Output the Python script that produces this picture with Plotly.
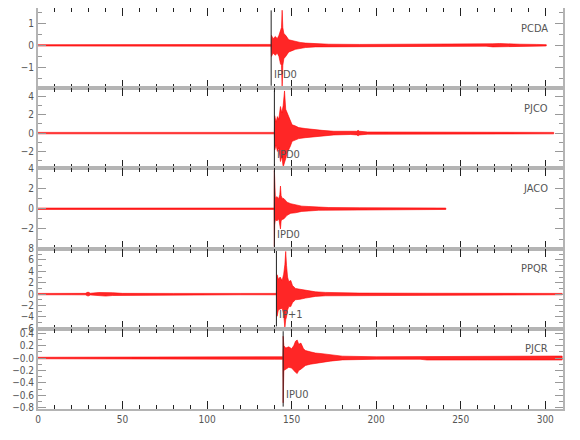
import plotly.graph_objects as go
from plotly.subplots import make_subplots

# ---------------- data ----------------
stations = ["PCDA", "PJCO", "JACO", "PPQR", "PJCR"]
pick_labels = ["IPD0", "IPD0", "IPD0", "IP+1", "IPU0"]
pick_times = [137.9, 139.8, 139.8, 141.0, 145.0]

# amplitude envelopes (upper / lower) of each trace, seconds vs counts
pcda_t = [0, 30, 60, 76, 80, 110, 125, 137.9, 138.1, 139.0, 140.4, 141.5, 142.5, 143.4,
          144.0, 144.4, 144.8, 145.4, 146.5, 148.3, 150.0, 152.3, 155.0, 158.2, 164, 172,
          190, 220, 250, 265, 269, 273, 277, 281, 285, 295, 300.6]
pcda_up = [0.03, 0.03, 0.03, 0.05, 0.03, 0.04, 0.04, 0.04, 0.45, 0.3, 0.4, 0.3, 0.45, 0.68,
           0.8, 1.58, 0.8, 0.53, 0.45, 0.25, 0.22, 0.16, 0.13, 0.1, 0.07, 0.05,
           0.04, 0.04, 0.04, 0.04, 0.07, 0.08, 0.06, 0.07, 0.05, 0.04, 0.03]
pcda_lo = [-0.03, -0.03, -0.03, -0.05, -0.03, -0.04, -0.04, -0.04, -0.5, -0.35, -0.45, -0.35, -0.5, -0.83,
           -0.9, -1.88, -0.9, -0.6, -0.5, -0.3, -0.25, -0.18, -0.13, -0.1, -0.07, -0.05,
           -0.04, -0.04, -0.04, -0.04, -0.07, -0.09, -0.06, -0.07, -0.05, -0.04, -0.03]

pjco_t = [0, 40, 80, 120, 139.8, 140.0, 140.8, 141.6, 142.4, 143.4, 144.2, 145.0, 145.8,
          146.5, 147.3, 148.3, 149.3, 150.3, 152.0, 154.2, 158.0, 162.1, 168, 175, 185,
          188.5, 189.3, 190.2, 195, 220, 260, 305]
pjco_up = [0.08, 0.08, 0.08, 0.08, 0.08, 1.9, 1.2, 1.8, 1.5, 2.9, 2.2, 3.0, 4.6,
           2.6, 2.2, 1.8, 1.4, 0.9, 0.8, 0.6, 0.5, 0.4, 0.3, 0.2, 0.15,
           0.2, 0.3, 0.2, 0.12, 0.1, 0.08, 0.08]
pjco_lo = [-0.08, -0.08, -0.08, -0.08, -0.08, -1.85, -1.3, -2.0, -1.6, -3.1, -2.5, -3.7, -3.3,
           -2.8, -2.2, -1.8, -1.4, -0.9, -0.8, -0.6, -0.5, -0.4, -0.3, -0.2, -0.15,
           -0.2, -0.3, -0.2, -0.12, -0.1, -0.08, -0.08]

jaco_t = [0, 50, 100, 139.6, 139.8, 140.0, 140.4, 141.4, 142.4, 143.0, 143.4, 143.8, 144.4,
          145.5, 147.3, 149.5, 152.3, 156.0, 160.2, 166, 172, 190, 220, 241.2]
jaco_up = [0.07, 0.07, 0.07, 0.07, 3.85, 1.5, 1.1, 1.2, 1.0, 1.4, 2.25, 1.3, 1.05,
           1.0, 0.65, 0.5, 0.4, 0.26, 0.22, 0.15, 0.12, 0.1, 0.08, 0.07]
jaco_lo = [-0.07, -0.07, -0.07, -0.07, -3.8, -1.6, -1.1, -1.2, -1.0, -1.3, -2.0, -1.2, -1.07,
           -1.0, -0.65, -0.45, -0.4, -0.26, -0.22, -0.15, -0.12, -0.1, -0.08, -0.07]

ppqr_t = [0, 20, 28, 29.6, 31, 36, 40, 44, 50, 55, 80, 120, 141.0, 141.2, 141.4, 142.2,
          143.2, 144.4, 145.3, 146.0, 146.5, 147.0, 147.6, 148.3, 149.5, 150.5, 152.3,
          155, 158.2, 161, 164.1, 170, 175.9, 190, 230, 270, 310]
ppqr_up = [0.12, 0.12, 0.13, 0.35, 0.15, 0.28, 0.3, 0.25, 0.13, 0.12, 0.12, 0.12, 0.12, 2.5,
           3.4, 2.6, 3.0, 2.4, 3.5, 5.2, 7.5, 5.0, 3.0, 2.2, 2.4, 1.5, 1.0,
           0.85, 0.7, 0.5, 0.4, 0.3, 0.25, 0.18, 0.15, 0.15, 0.12]
ppqr_lo = [-0.12, -0.12, -0.13, -0.35, -0.15, -0.3, -0.35, -0.25, -0.13, -0.12, -0.12, -0.12, -0.12, -2.6,
           -3.9, -2.75, -2.7, -2.5, -3.5, -6.0, -4.5, -4.0, -2.8, -2.2, -2.2, -1.5, -1.0,
           -0.9, -0.7, -0.5, -0.4, -0.3, -0.25, -0.18, -0.15, -0.15, -0.12]

pjcr_t = [0, 50, 100, 140, 144.8, 145.0, 145.4, 146.5, 148.3, 150.0, 151.3, 152.3, 153.3,
          154.2, 155.5, 157.0, 158.2, 161, 164.1, 168, 172.8, 180, 200, 226, 230, 260, 290, 310]
pjcr_up = [0.012, 0.012, 0.018, 0.02, 0.02, 0.35, 0.2, 0.16, 0.18, 0.15, 0.2, 0.27, 0.29,
           0.22, 0.24, 0.15, 0.12, 0.1, 0.08, 0.07, 0.05, 0.03, 0.02, 0.02, 0.032, 0.032, 0.028, 0.032]
pjcr_lo = [-0.012, -0.012, -0.018, -0.02, -0.02, -0.72, -0.2, -0.18, -0.15, -0.16, -0.2, -0.23, -0.25,
           -0.2, -0.18, -0.15, -0.12, -0.1, -0.08, -0.07, -0.05, -0.03, -0.02, -0.02, -0.032, -0.032, -0.028, -0.032]

traces_t = [pcda_t, pjco_t, jaco_t, ppqr_t, pjcr_t]
traces_up = [pcda_up, pjco_up, jaco_up, ppqr_up, pjcr_up]
traces_lo = [pcda_lo, pjco_lo, jaco_lo, ppqr_lo, pjcr_lo]

y_ranges = [[-1.93, 1.68], [-3.85, 4.9], [-3.95, 4.0], [-6.1, 8.0], [-0.82, 0.47]]
y_tickvals = [[-1, 0, 1], [-2, 0, 2, 4], [-2, 0, 2, 4], [-6, -4, -2, 0, 2, 4, 6, 8],
              [-0.8, -0.6, -0.4, -0.2, 0.0, 0.2, 0.4]]
y_ticktext = [["\u22121", "0", "1"], ["\u22122", "0", "2", "4"], ["\u22122", "0", "2", "4"],
              ["\u22126", "\u22124", "\u22122", "0", "2", "4", "6", "8"],
              ["\u22120.8", "\u22120.6", "\u22120.4", "\u22120.2", "\u22120.0", "0.2", "0.4"]]
y_minor = [0.5, 1, 1, 1, 0.1]
x_range = [0, 310.5]
x_tickvals = [0, 50, 100, 150, 200, 250, 300]

# ---------------- figure ----------------
FONT = "DejaVu Sans Condensed, Liberation Sans Narrow, sans-serif"
BORDER = "#b4b4b4"
TXT = "#555555"

fig = make_subplots(rows=5, cols=1, shared_xaxes=True, vertical_spacing=0)

for i in range(5):
    r = i + 1
    t = traces_t[i]
    xs = list(t) + list(t[::-1])
    ys = list(traces_up[i]) + list(traces_lo[i][::-1])
    fig.add_trace(go.Scatter(x=xs, y=ys, mode="lines", fill="toself",
                             fillcolor="rgba(255,0,0,0.85)", line=dict(color="#ff0000", width=0.6),
                             hoverinfo="skip", showlegend=False), row=r, col=1)

    xref = "x" if r == 1 else f"x{r}"
    yref = "y domain" if r == 1 else f"y{r} domain"
    xdom = "x domain" if r == 1 else f"x{r} domain"
    fig.add_shape(type="line", xref=xref, yref=yref, x0=pick_times[i], x1=pick_times[i],
                  y0=0.03, y1=0.97, line=dict(color="#222222", width=1))
    fig.add_annotation(xref=xref, yref=yref, x=pick_times[i], y=0.175, text=pick_labels[i],
                       showarrow=False, xanchor="left", yanchor="middle", xshift=1,
                       font=dict(family=FONT, size=11, color=TXT))
    fig.add_annotation(xref=xdom, yref=yref, x=0.976, y=0.75, text=stations[i],
                       showarrow=False, xanchor="right", yanchor="middle",
                       font=dict(family=FONT, size=11, color=TXT))

    fig.update_yaxes(row=r, col=1, range=y_ranges[i], tickvals=y_tickvals[i],
                     ticktext=y_ticktext[i], ticks="inside", ticklen=8, tickwidth=1,
                     tickcolor="#999999", showline=True, linecolor=BORDER, linewidth=2,
                     mirror="ticks", showgrid=False, zeroline=False, automargin=False,
                     tickfont=dict(family=FONT, size=10, color=TXT),
                     minor=dict(dtick=y_minor[i], tick0=0, ticks="inside", ticklen=4,
                                tickcolor="#999999", tickwidth=1))
    fig.update_xaxes(row=r, col=1, range=x_range, tickvals=x_tickvals, ticks="inside",
                     ticklen=8, tickwidth=1, tickcolor="#222222", showline=True,
                     linecolor=BORDER, linewidth=2, mirror="ticks", showgrid=False,
                     zeroline=False, automargin=False,
                     tickfont=dict(family=FONT, size=10, color=TXT),
                     minor=dict(dtick=10, tick0=0, ticks="inside", ticklen=4,
                                tickcolor="#222222", tickwidth=1))

# the page adds an 8px body margin; margins are chosen so the plot lands where the reference has it
fig.update_layout(width=580, height=440, margin=dict(l=30, r=25, t=0, b=39, autoexpand=False),
                  paper_bgcolor="white", plot_bgcolor="white", showlegend=False)

fig.write_html("out.html")
